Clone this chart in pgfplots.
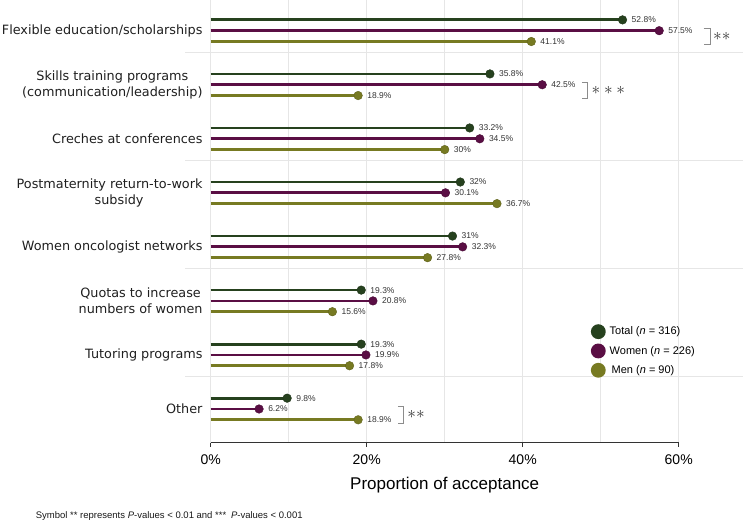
\documentclass[border=0pt]{standalone}
\usepackage{pgfplots}
\pgfplotsset{compat=1.18}
\usepackage{fontspec}
\setmainfont{Liberation Sans}
\newfontfamily\dejavu{DejaVu Sans}
\definecolor{totc}{HTML}{26411E}
\definecolor{womc}{HTML}{5A0E44}
\definecolor{menc}{HTML}{777A22}
\definecolor{gridc}{HTML}{E6E6E6}
\definecolor{txtc}{HTML}{333333}
\begin{document}
\begin{tikzpicture}
\begin{axis}[
  scale only axis,
  width=468pt, height=442.7pt,
  xmin=0, xmax=60,
  ymin=-2.84, ymax=38.12,
  y dir=reverse,
  clip=false,
  axis x line*=bottom,
  axis y line*=left,
  y axis line style={draw=none},
  x axis line style={-, color=txtc, line width=0.8pt},
  xtick={0,20,40,60},
  minor xtick={10,30,50},
  xtick align=outside,
  major tick length=4pt,
  minor tick length=0pt,
  xtick style={color=txtc, line width=0.8pt},
  xmajorgrids, xminorgrids,
  major grid style={gridc, line width=0.6pt},
  minor grid style={gridc, line width=0.6pt},
  /pgf/number format/assume math mode=true,
  xticklabel={\pgfmathprintnumber{\tick}\%},
  xticklabel style={font=\fontsize{14}{16}\selectfont, color=black, yshift=-4pt},
  ytick={0,5,10,15,20,25,30,35},
  yticklabels={Flexible education/scholarships,
    {Skills training programs\\(communication/leadership)},
    Creches at conferences,
    {Postmaternity return-to-work\\\hspace*{19pt}subsidy},
    Women oncologist networks,
    {Quotas to increase\\numbers of women},
    Tutoring programs,
    Other},
  ytick style={draw=none},
  yticklabel style={font=\dejavu\fontsize{12.8}{16}\selectfont, align=center, anchor=east, inner sep=0pt, xshift=-8pt, color=black!88},
  xlabel={Proportion of acceptance},
  xlabel style={font=\fontsize{17}{19}\selectfont, color=black, yshift=-6pt},
  point meta=x,
  nodes near coords={\pgfmathprintnumber{\pgfplotspointmeta}\%},
  every node near coord/.append style={font=\fontsize{8.5}{10}\selectfont, color=txtc, anchor=west, inner sep=0pt, xshift=9pt},
  legend style={at={(axis description cs:0.812,0.268)}, anchor=north west, draw=none, fill=none,
    font=\fontsize{11}{13}\selectfont, row sep=4.5pt, inner sep=0pt, column sep=3pt,
    nodes={inner sep=1pt, anchor=west}},
  legend cell align=left,
  legend image code/.code={\fill (0pt,0pt) circle (6pt);},
]
\addplot[xcomb, color=totc, line width=2.8pt, mark=*, mark size=4.3pt,
  mark options={fill=totc, draw=totc!80!black, line width=0.4pt}]
  coordinates {(52.8,-1) (35.8,4) (33.2,9) (32,14) (31,19) (19.3,24) (19.3,29) (9.8,34)};
\addlegendentry{Total (\textit{n} = 316)}
\addplot[xcomb, color=womc, line width=2.8pt, mark=*, mark size=4.3pt,
  mark options={fill=womc, draw=womc!80!black, line width=0.4pt}]
  coordinates {(57.5,0) (42.5,5) (34.5,10) (30.1,15) (32.3,20) (20.8,25) (19.9,30) (6.2,35)};
\addlegendentry{Women (\textit{n} = 226)}
\addplot[xcomb, color=menc, line width=2.8pt, mark=*, mark size=4.3pt,
  mark options={fill=menc, draw=menc!80!black, line width=0.4pt}]
  coordinates {(41.1,1) (18.9,6) (30,11) (36.7,16) (27.8,21) (15.6,26) (17.8,31) (18.9,36)};
\addlegendentry{\hspace{2pt}Men (\textit{n} = 90)}
% separators
\draw[gridc, line width=0.8pt] (axis cs:-3.3,2) -- (axis cs:68.3,2);
\draw[gridc, line width=0.8pt] (axis cs:-3.3,12) -- (axis cs:68.3,12);
\draw[gridc, line width=0.8pt] (axis cs:-3.3,22) -- (axis cs:68.3,22);
\draw[gridc, line width=0.8pt] (axis cs:-3.3,32) -- (axis cs:68.3,32);
% significance brackets
\draw[black!45, line width=0.7pt] (axis cs:63.2,-0.2) -- (axis cs:64.0,-0.2) -- (axis cs:64.0,1.3) -- (axis cs:63.2,1.3);
\node[anchor=west, inner sep=0pt, color=txtc] at (axis cs:64.4,0.55) {\fontsize{16}{16}\selectfont$\ast\ast$};
\draw[black!45, line width=0.7pt] (axis cs:47.6,4.8) -- (axis cs:48.3,4.8) -- (axis cs:48.3,6.3) -- (axis cs:47.6,6.3);
\node[anchor=west, inner sep=0pt, color=txtc] at (axis cs:48.8,5.55) {\fontsize{16}{16}\selectfont$\ast\ast\ast$};
\draw[black!45, line width=0.7pt] (axis cs:24.0,34.8) -- (axis cs:24.7,34.8) -- (axis cs:24.7,36.3) -- (axis cs:24.0,36.3);
\node[anchor=west, inner sep=0pt, color=txtc] at (axis cs:25.2,35.55) {\fontsize{16}{16}\selectfont$\ast\ast$};
\end{axis}
\node[anchor=west, inner sep=0pt, font=\fontsize{9.5}{11}\selectfont, color=black!90]
  at ([xshift=-175pt, yshift=-73.5pt]current axis.south west)
  {Symbol ** represents \textit{P}-values < 0.01 and ***\enspace\textit{P}-values < 0.001};
\pgfresetboundingbox
\path ([xshift=-210.7pt, yshift=-79.3pt]current axis.south west) rectangle ++(743pt,522pt);
\end{tikzpicture}
\end{document}
